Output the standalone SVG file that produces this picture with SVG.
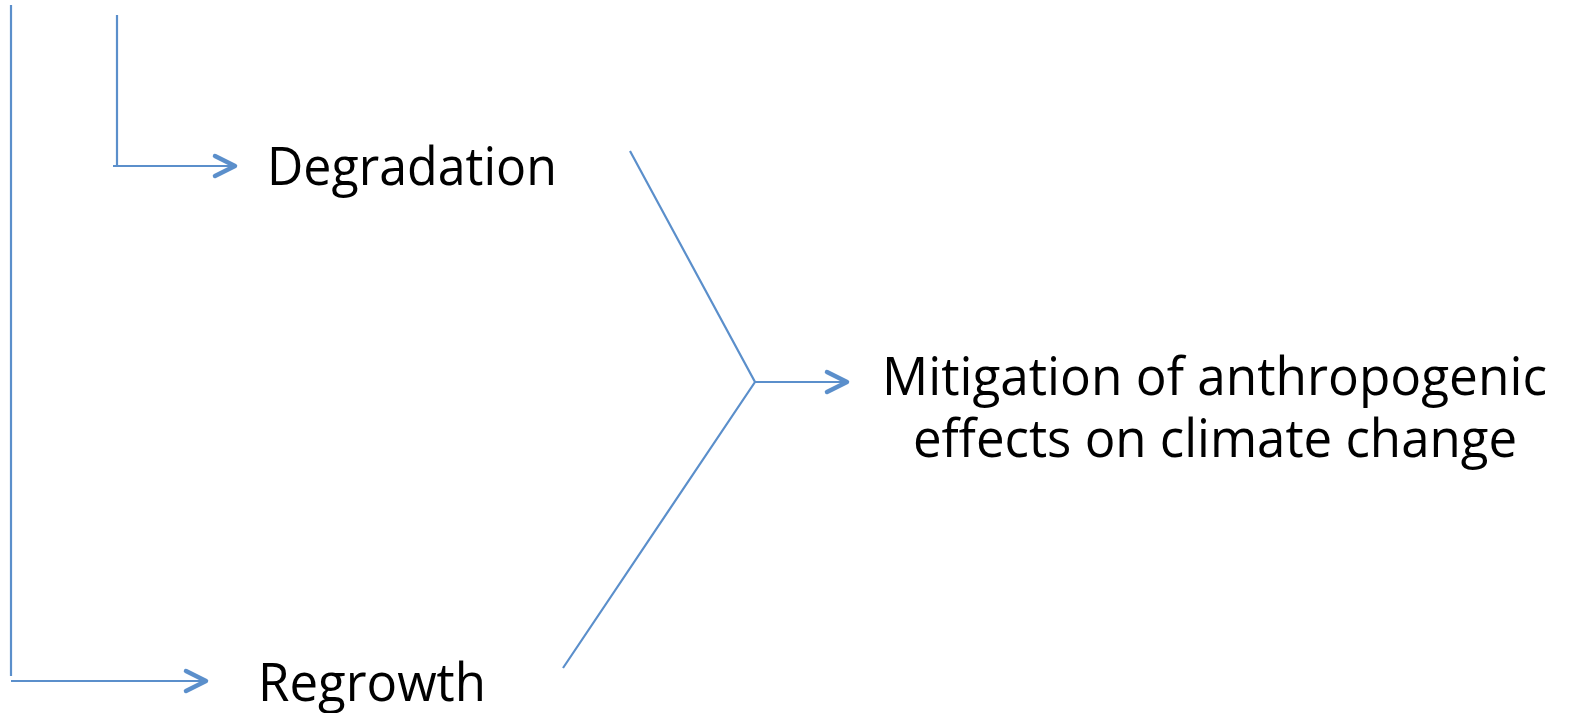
<svg xmlns="http://www.w3.org/2000/svg" width="1571" height="713" viewBox="0 0 1571 713">
<style>
.c{stroke:#5B8FCB;stroke-width:2.2;fill:none}
.t{font-family:"Open Sans","Liberation Sans",sans-serif;font-size:53px;fill:#000}
</style>
<defs>
<marker id="a" viewBox="0 0 30 30" refX="26" refY="15" markerWidth="30" markerHeight="30" markerUnits="userSpaceOnUse" orient="auto">
<path d="M6,5 L26,15 L6,25" fill="none" stroke="#5B8FCB" stroke-width="4.5" stroke-linecap="round" stroke-linejoin="round"/>
</marker>
</defs>
<g id="connectors">
<path class="c" d="M11,5 V676"/>
<path class="c" d="M11,681 H206" marker-end="url(#a)"/>
<path class="c" d="M117,15 V166"/>
<path class="c" d="M113,166 H235" marker-end="url(#a)"/>
<path class="c" d="M630,151 L755,382 L563,668"/>
<path class="c" d="M755,382 H847" marker-end="url(#a)"/>
</g>
<g id="degradation"><text class="t" x="267" y="185" textLength="290" lengthAdjust="spacingAndGlyphs">Degradation</text></g>
<g id="regrowth"><text class="t" x="258" y="701" textLength="228" lengthAdjust="spacingAndGlyphs">Regrowth</text></g>
<g id="mitigation">
<text class="t" x="882" y="395" textLength="665" lengthAdjust="spacingAndGlyphs">Mitigation of anthropogenic</text>
<text class="t" x="913" y="457" textLength="604" lengthAdjust="spacingAndGlyphs">effects on climate change</text>
</g>
</svg>
